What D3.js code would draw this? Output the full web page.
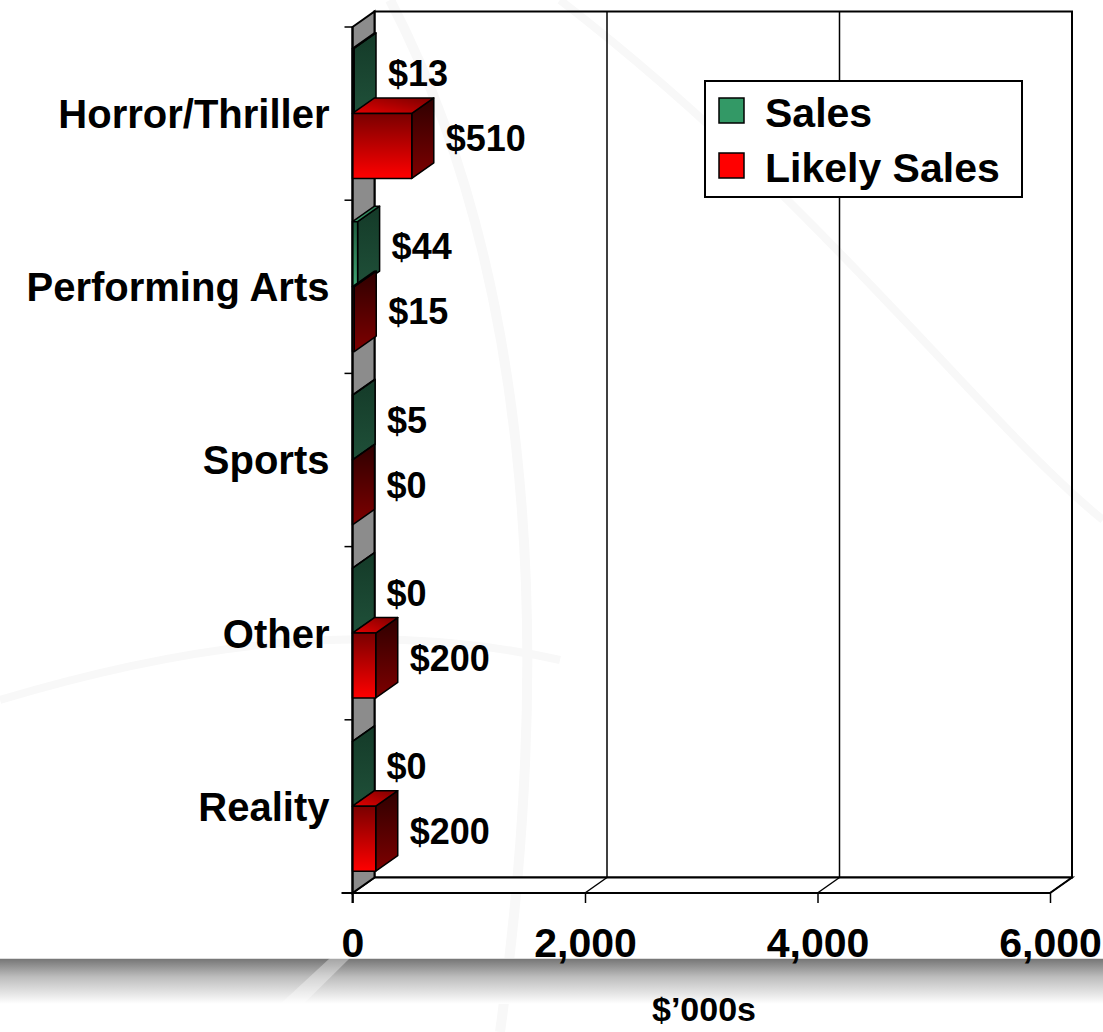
<!DOCTYPE html>
<html>
<head>
<meta charset="utf-8">
<script src="https://cdn.jsdelivr.net/npm/d3@7"></script>
<style>
  html, body { margin: 0; padding: 0; background: #ffffff; }
  svg { display: block; }
  text { font-family: "Liberation Sans", Arial, sans-serif; font-weight: bold; fill: #000; }
</style>
</head>
<body>
<svg id="chart" width="1103" height="1032"></svg>
<script>
// ---- data ----
const categories = ["Horror/Thriller", "Performing Arts", "Sports", "Other", "Reality"];
const seriesNames = ["Sales", "Likely Sales"];
const salesValues = [13, 44, 5, 0, 0];
const likelySalesValues = [510, 15, 0, 200, 200];
const xTickValues = [0, 2000, 4000, 6000];
const axisTitle = "$\u2019000s";

// ---- layout ----
const W = 1103, H = 1032;
const front = { left: 352.5, right: 1050, top: 27, bottom: 893 };
const depth = { dx: 22, dy: -15.5 };

const svg = d3.select("#chart");
const defs = svg.append("defs");

function grad(id, stops, x1, y1, x2, y2) {
  const g = defs.append("linearGradient").attr("id", id)
    .attr("x1", x1).attr("y1", y1).attr("x2", x2).attr("y2", y2);
  stops.forEach(([o, c]) => g.append("stop").attr("offset", o).attr("stop-color", c));
}
grad("redFront", [["0%", "#7a0000"], ["100%", "#ff0000"]], 0, 0, 0, 1);
grad("redSide", [["0%", "#2e0000"], ["100%", "#7e0000"]], 0, 0, 0, 1);
grad("redTop", [["0%", "#e60000"], ["100%", "#7a0000"]], 0, 1, 1, 0);
grad("greenFront", [["0%", "#1f5c3e"], ["100%", "#40a674"]], 0, 0, 0, 1);
grad("greenSide", [["0%", "#143a28"], ["100%", "#1f5039"]], 0, 0, 0, 1);
grad("greenTop", [["0%", "#3a9a6a"], ["100%", "#2a7a52"]], 0, 1, 1, 0);
grad("band", [["0%", "#767676"], ["40%", "#bdbdbd"], ["100%", "#ffffff"]], 0, 0, 0, 1);

// ---- background ----
svg.append("rect").attr("width", W).attr("height", H).attr("fill", "#ffffff");
const swirl = svg.append("g").attr("fill", "none").attr("stroke", "#f8f8f8");
swirl.append("path").attr("d", "M 390 0 C 520 250, 560 600, 500 1032").attr("stroke-width", 10);
swirl.append("path").attr("d", "M 560 0 C 820 200, 980 420, 1103 520").attr("stroke-width", 8);
swirl.append("path").attr("d", "M 0 700 C 200 640, 380 620, 560 660").attr("stroke-width", 8);
svg.append("rect").attr("x", 0).attr("y", 959).attr("width", W).attr("height", 45).attr("fill", "url(#band)");
svg.append("line").attr("x1", 0).attr("x2", W).attr("y1", 958.5).attr("y2", 958.5).attr("stroke", "#dddddd").attr("stroke-width", 1);
svg.append("path").attr("d", "M 250 1032 L 330 958 L 350 958 L 275 1032 Z").attr("fill", "#ffffff").attr("opacity", 0.35);

// ---- scales ----
const x = d3.scaleLinear().domain([0, 6000]).range([front.left, front.right]);
const y = d3.scaleBand().domain(categories).range([front.top, front.bottom]).padding(0);
const bw = y.bandwidth();
const sub = d3.scaleBand().domain(seriesNames).range([bw * 0.124, bw * 0.874]).padding(0);

const x0 = x(0), xMax = x(6000);
const dx = depth.dx, dy = depth.dy;
const pt = (a, b) => a + "," + b;

// ---- walls & floor ----
const frame = svg.append("g").attr("stroke", "#000").attr("stroke-linejoin", "miter");
frame.append("rect")
  .attr("x", x0 + dx).attr("y", front.top + dy)
  .attr("width", xMax - x0).attr("height", front.bottom - front.top)
  .attr("fill", "none").attr("stroke-width", 2);
frame.selectAll("line.grid").data(xTickValues.filter(t => t > 0 && t < 6000)).join("line")
  .attr("class", "grid")
  .attr("x1", d => x(d) + dx).attr("x2", d => x(d) + dx)
  .attr("y1", front.top + dy).attr("y2", front.bottom + dy)
  .attr("stroke-width", 1.5);
frame.append("polygon")
  .attr("points", [pt(x0, front.bottom), pt(xMax, front.bottom), pt(xMax + dx, front.bottom + dy), pt(x0 + dx, front.bottom + dy)].join(" "))
  .attr("fill", "#ffffff").attr("stroke-width", 2);
frame.selectAll("line.fgrid").data(xTickValues.filter(t => t > 0)).join("line")
  .attr("class", "fgrid")
  .attr("x1", d => x(d)).attr("x2", d => x(d) + dx)
  .attr("y1", front.bottom).attr("y2", front.bottom + dy)
  .attr("stroke-width", 1.5);
frame.append("polygon")
  .attr("points", [pt(x0, front.top), pt(x0 + dx, front.top + dy), pt(x0 + dx, front.bottom + dy), pt(x0, front.bottom)].join(" "))
  .attr("fill", "#8c8c8c").attr("stroke-width", 2);

// ---- bars ----
const rows = [];
categories.forEach((c, i) => {
  rows.push({ cat: c, series: "Sales", value: salesValues[i] });
  rows.push({ cat: c, series: "Likely Sales", value: likelySalesValues[i] });
});
const fills = {
  "Sales": { front: "url(#greenFront)", side: "url(#greenSide)", top: "url(#greenTop)" },
  "Likely Sales": { front: "url(#redFront)", side: "url(#redSide)", top: "url(#redTop)" }
};

const bars = svg.append("g").selectAll("g.bar").data(rows).join("g").attr("class", "bar")
  .attr("stroke", "#000").attr("stroke-width", 1.5).attr("stroke-linejoin", "round");
bars.each(function (d) {
  const g = d3.select(this);
  const y0 = y(d.cat) + sub(d.series);
  const y1 = y0 + sub.bandwidth();
  const xv = x(d.value);
  g.append("polygon")
    .attr("points", [pt(xv, y0), pt(xv + dx, y0 + dy), pt(xv + dx, y1 + dy), pt(xv, y1)].join(" "))
    .attr("fill", fills[d.series].side);
  g.append("polygon")
    .attr("points", [pt(x0, y0), pt(xv, y0), pt(xv + dx, y0 + dy), pt(x0 + dx, y0 + dy)].join(" "))
    .attr("fill", fills[d.series].top);
  if (d.value > 0) {
    g.append("rect").attr("x", x0).attr("y", y0).attr("width", xv - x0).attr("height", y1 - y0)
      .attr("fill", fills[d.series].front);
  }
});

// ---- axes ----
const boundaries = categories.map(c => y(c)).concat([front.bottom]);
svg.append("line").attr("x1", x0).attr("x2", x0).attr("y1", front.top).attr("y2", front.bottom + 10)
  .attr("stroke", "#000").attr("stroke-width", 2);
svg.selectAll("line.ytick").data(boundaries).join("line").attr("class", "ytick")
  .attr("x1", x0 - 8).attr("x2", x0).attr("y1", d => d).attr("y2", d => d)
  .attr("stroke", "#000").attr("stroke-width", 1.5);
svg.append("line").attr("x1", x0 - 11).attr("x2", xMax).attr("y1", front.bottom).attr("y2", front.bottom)
  .attr("stroke", "#000").attr("stroke-width", 2);

const yAxis = svg.append("g").attr("transform", `translate(${x0},0)`)
  .call(d3.axisLeft(y).tickSize(0).tickPadding(23));
yAxis.select(".domain").remove();
yAxis.selectAll("text").attr("font-size", 40).attr("font-family", null).attr("dy", "0.36em");

const xAxis = svg.append("g").attr("transform", `translate(0,${front.bottom})`)
  .call(d3.axisBottom(x).tickValues(xTickValues).tickSize(10).tickPadding(25).tickFormat(d3.format(",")));
xAxis.select(".domain").remove();
xAxis.selectAll("line").attr("stroke", "#000").attr("stroke-width", 1.5);
xAxis.selectAll("text").attr("font-size", 41).attr("font-family", null);

svg.append("text").attr("x", 704).attr("y", 1021).attr("text-anchor", "middle")
  .attr("font-size", 34).text(axisTitle);

// ---- value labels ----
const money = v => "$" + d3.format(",")(v);
svg.append("g").selectAll("text").data(rows).join("text")
  .attr("x", d => x(d.value) + dx + 12)
  .attr("y", d => y(d.cat) + sub(d.series) + sub.bandwidth() / 2 + dy / 2 + 13)
  .attr("font-size", 36)
  .text(d => money(d.value));

// ---- legend ----
const legend = svg.append("g").attr("transform", "translate(705,81)");
legend.append("rect").attr("width", 317).attr("height", 116)
  .attr("fill", "#ffffff").attr("stroke", "#000").attr("stroke-width", 2);
const legendColors = { "Sales": "#339966", "Likely Sales": "#ff0000" };
const li = legend.selectAll("g.item").data(seriesNames).join("g").attr("class", "item")
  .attr("transform", (d, i) => `translate(0,${i * 55})`);
li.append("rect").attr("x", 14).attr("y", 17).attr("width", 25).attr("height", 25)
  .attr("fill", d => legendColors[d]).attr("stroke", "#000").attr("stroke-width", 1.5);
li.append("text").attr("x", 60).attr("y", 46).attr("font-size", 41).text(d => d);
</script>
</body>
</html>
